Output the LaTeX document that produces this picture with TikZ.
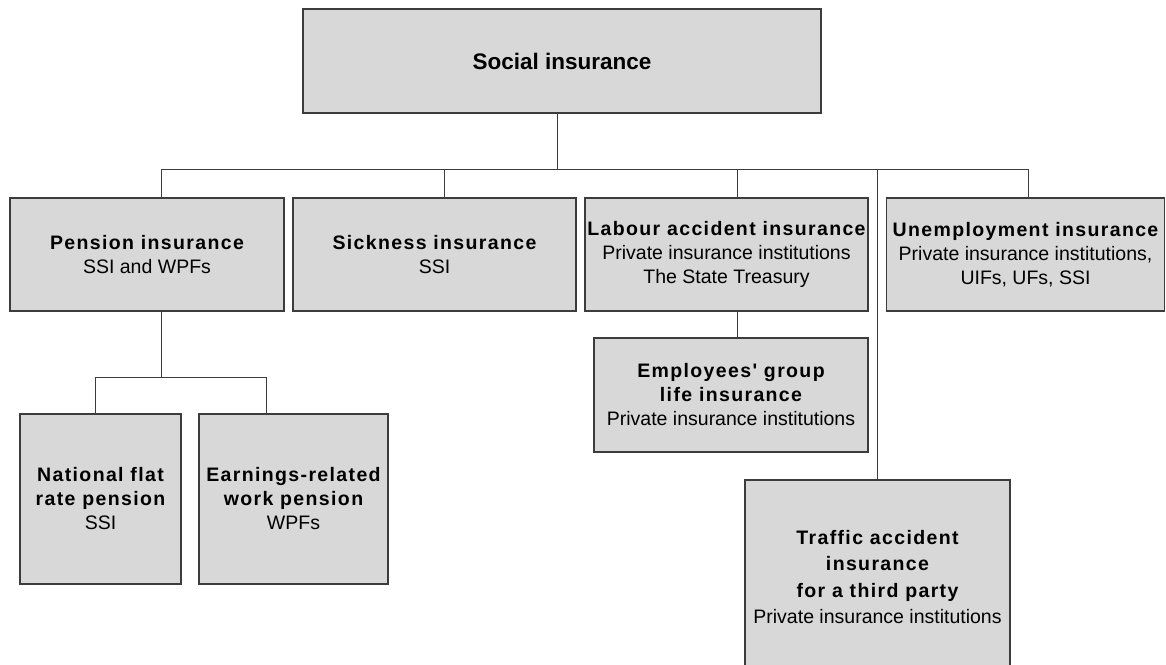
\documentclass[tikz,border=0pt]{standalone}
\usepackage{fontspec}
\setmainfont{Liberation Sans}
\newfontfamily\headfont{Liberation Sans}[LetterSpace=7]
\definecolor{boxgray}{RGB}{216,216,216}
\definecolor{edgegray}{RGB}{60,60,60}
\newcommand{\hd}[1]{{\headfont\bfseries #1}}

\begin{document}
\begin{tikzpicture}[x=1pt,y=-1pt,
    ibox/.style={draw=edgegray, line width=1.2pt, fill=boxgray, align=center,
                 inner sep=0pt, font=\fontsize{19.5}{24}\selectfont},
    link/.style={draw=edgegray, line width=1pt}]
\useasboundingbox (0,0) rectangle (1166,664);

% top
\node[ibox, minimum width=518pt, minimum height=104pt,
      font=\fontsize{22.5}{27}\selectfont\bfseries] (social) at (562,61) {Social insurance};

% first row
\node[ibox, minimum width=274pt, minimum height=113pt] (pension) at (147,254.5)
    {\hd{Pension insurance}\\SSI and WPFs};
\node[ibox, minimum width=283pt, minimum height=113pt] (sickness) at (434.5,254.5)
    {\hd{Sickness insurance}\\SSI};
\node[ibox, minimum width=283pt, minimum height=113pt] (labour) at (726.5,254.5)
    {\hd{Labour accident insurance}\\Private insurance institutions\\The State Treasury};
\node[ibox, minimum width=278pt, minimum height=113pt] (unemp) at (1025.5,254.5)
    {\hd{Unemployment insurance}\\Private insurance institutions,\\UIFs, UFs, SSI};

% lower boxes
\node[ibox, minimum width=274pt, minimum height=114pt] (group) at (731,395)
    {\hd{Employees' group}\\\hd{life insurance}\\Private insurance institutions};
\node[ibox, minimum width=161pt, minimum height=170pt] (national) at (100.5,499)
    {\hd{National flat}\\\hd{rate pension}\\SSI};
\node[ibox, minimum width=189pt, minimum height=170pt] (earnings) at (293.5,499)
    {\hd{Earnings-related}\\\hd{work pension}\\WPFs};
\node[ibox, minimum width=265pt, minimum height=194pt,
      font=\fontsize{19.5}{26.5}\selectfont] (traffic) at (877.5,577)
    {\hd{Traffic accident}\\\hd{insurance}\\\hd{for a third party}\\Private insurance institutions};

% connectors
\draw[link] ([xshift=-5pt]social.south) -- ++(0,56) coordinate (hub);
\draw[link] ([xshift=14pt]pension.north) |- (hub) -| ([xshift=2.5pt]unemp.north);
\draw[link] ([xshift=9.5pt]sickness.north) -- ([xshift=9.5pt]sickness.north |- hub);
\draw[link] ([xshift=10.5pt]labour.north) -- ([xshift=10.5pt]labour.north |- hub);
\draw[link] (traffic.north |- hub) -- (traffic.north);
\draw[link] ([xshift=10.5pt]labour.south) -- ([xshift=10.5pt]labour.south |- group.north);

\draw[link] ([xshift=14pt]pension.south) -- ++(0,66) coordinate (penhub);
\draw[link] ([xshift=-5.5pt]national.north) |- (penhub) -| ([xshift=-27.5pt]earnings.north);

\end{tikzpicture}
\end{document}
